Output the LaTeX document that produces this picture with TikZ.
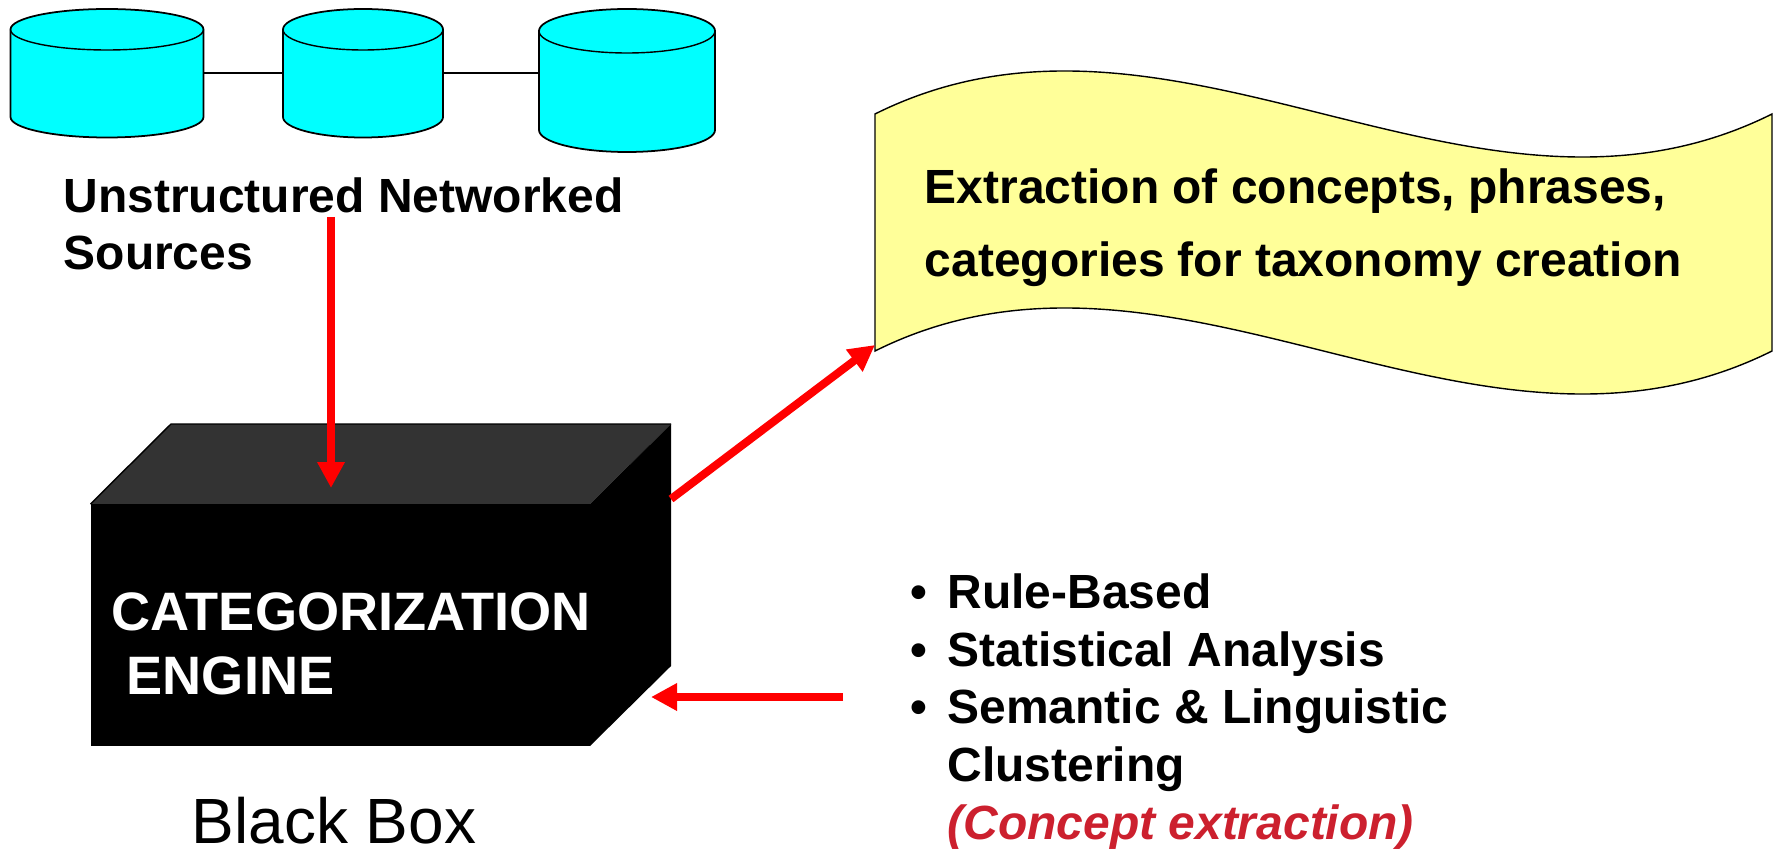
\documentclass[tikz,border=0pt]{standalone}
\usepackage{fontspec}
\setmainfont{Liberation Sans}
\usetikzlibrary{arrows.meta}
\definecolor{dbcyan}{HTML}{00FFFF}
\definecolor{flagyellow}{HTML}{FFFF99}
\definecolor{boxtop}{HTML}{333333}
\definecolor{notered}{HTML}{CC202E}
\tikzset{
  dbface/.style={draw,fill=dbcyan,line width=0.5pt},
  redarrow/.style={draw=red,line width=0.08cm,-{Triangle[length=0.26cm,width=0.26cm,fill=red]}},
  boldtext/.style={inner sep=0pt,align=left,font=\fontsize{13.65pt}{16.2pt}\selectfont\bfseries}
}
\begin{document}
\begin{tikzpicture}
\useasboundingbox (0,0) rectangle (17.73,8.51);
% sources
\foreach \dbname/\cx/\rx/\ty/\by/\ry in {db1/1.07/0.965/8.215/7.34/0.205,db2/3.63/0.80/8.215/7.34/0.205,db3/6.27/0.88/8.20/7.21/0.22}{
  \draw[dbface] (\cx-\rx,\ty) -- (\cx-\rx,\by) arc[start angle=180,end angle=360,x radius=\rx,y radius=\ry]
    -- (\cx+\rx,\ty) arc[start angle=0,end angle=180,x radius=\rx,y radius=\ry] -- cycle;
  \draw (\cx-\rx,\ty) arc[start angle=180,end angle=360,x radius=\rx,y radius=\ry];
  \coordinate (\dbname west) at (\cx-\rx,7.78);
  \coordinate (\dbname east) at (\cx+\rx,7.78);
}
\draw (db1east) -- (db2west);
\draw (db2east) -- (db3west);
\node[boldtext,anchor=north west] (sources) at (0.63,6.74) {Unstructured Networked\\Sources};
% flag
\draw[fill=flagyellow] (8.75,7.37) .. controls (11.74,8.86) and (14.73,5.88) .. (17.72,7.37)
  -- (17.72,5.00) .. controls (14.73,3.51) and (11.74,6.49) .. (8.75,5.00) -- cycle;
\coordinate (flagcorner) at (8.75,5.06);
\node[boldtext,anchor=north west,font=\fontsize{13.65pt}{20.8pt}\selectfont\bfseries] (extract) at (9.24,6.83)
  {Extraction of concepts, phrases,\\categories for taxonomy creation};
% black box
\fill[boxtop] (0.905,3.47) -- (1.71,4.27) -- (6.71,4.27) -- (5.90,3.47) -- cycle;
\fill[black] (0.905,3.47) rectangle (5.90,1.05);
\fill[black] (5.90,3.47) -- (6.71,4.27) -- (6.71,1.85) -- (5.90,1.05) -- cycle;
\draw[black] (0.905,3.47) -- (1.71,4.27) -- (6.71,4.27);
\node[boldtext,anchor=north west,text=white,font=\fontsize{15.4pt}{18.1pt}\selectfont\bfseries] (engine) at (1.11,2.59)
  {CATEGORIZATION\\\ ENGINE};
\node[anchor=base west,inner sep=0pt,font=\fontsize{18.2pt}{20pt}\selectfont] (blackbox) at (1.91,0.08) {Black Box};
% methods
\node[boldtext,anchor=north west,font=\fontsize{13.65pt}{16.4pt}\selectfont\bfseries] (methods) at (9.1,2.78)
  {\textbullet\hspace{0.2cm}Rule-Based\\
   \textbullet\hspace{0.2cm}Statistical Analysis\\
   \textbullet\hspace{0.2cm}Semantic \& Linguistic\\
   \hphantom{\textbullet}\hspace{0.2cm}Clustering\\
   \hphantom{\textbullet}\hspace{0.2cm}\textcolor{notered}{\itshape (Concept extraction)}};
% arrows
\coordinate (srcout) at (3.31,6.34);
\coordinate (boxin) at (3.31,3.63);
\coordinate (boxout) at (6.71,3.52);
\coordinate (boxback) at (6.51,1.54);
\coordinate (methodout) at (8.43,1.54);
\draw[redarrow] (srcout) -- (boxin);
\draw[redarrow] (boxout) -- (flagcorner);
\draw[redarrow] (methodout) -- (boxback);
\end{tikzpicture}
\end{document}
